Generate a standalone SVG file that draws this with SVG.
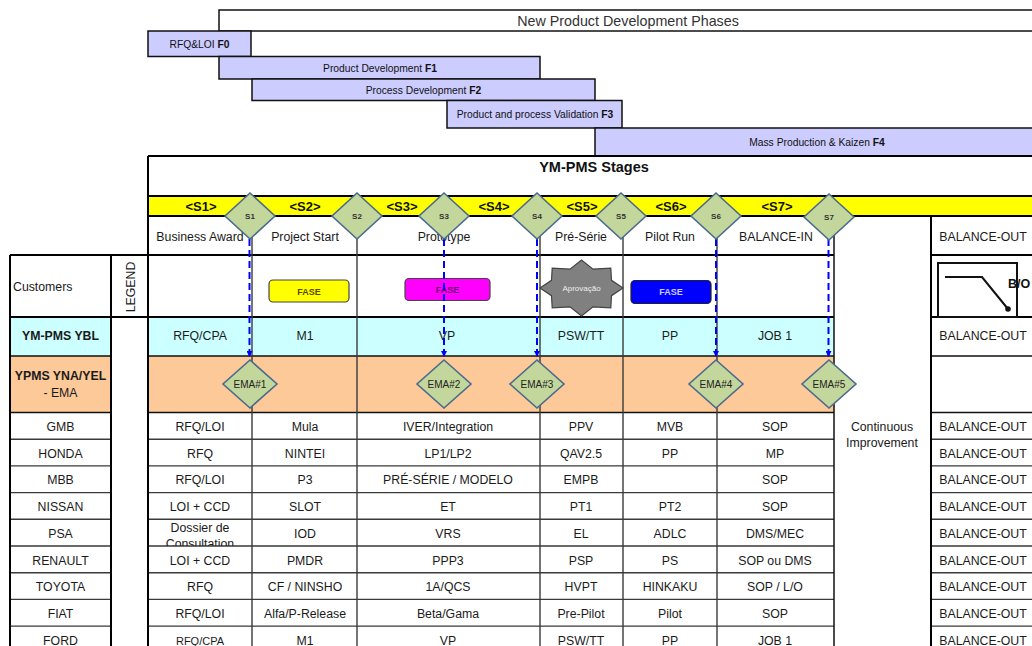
<svg xmlns="http://www.w3.org/2000/svg" width="1032" height="646" viewBox="0 0 1032 646">
<defs>
<style>
text{font-family:"Liberation Sans",Arial,Helvetica,sans-serif;fill:#1a1a1a}
.t{font-size:12.3px;text-anchor:middle}
.b{font-weight:bold}
.ph{fill:#ccccff;stroke:#111;stroke-width:1.5}
.pt{font-size:10.3px;text-anchor:middle;fill:#111}
.sl{font-size:13px;font-weight:bold;text-anchor:middle;fill:#111}
.dia{fill:#c3d69b;stroke:#4a6b8c;stroke-width:1.6}
.dl{font-size:8px;font-weight:bold;text-anchor:middle;fill:#333}
.el{font-size:10px;text-anchor:middle;fill:#222}
.thick{stroke:#000;stroke-width:2;fill:none}
.mid{stroke:#111;stroke-width:1.5;fill:none}
.thin{stroke:#3a3a3a;stroke-width:1.4;fill:none}
.dash{stroke:#0000ff;stroke-width:2;stroke-dasharray:7 4;fill:none}
.fase{font-size:9px;font-weight:bold;text-anchor:middle}
</style>
<marker id="arr" viewBox="0 0 6 6" refX="6" refY="3" markerWidth="6" markerHeight="6" markerUnits="userSpaceOnUse" orient="auto">
<path d="M0,0 L6,3 L0,6 z" fill="#0000ff"/>
</marker>
<clipPath id="psaClip"><rect x="148" y="519.3" width="104" height="26.7"/></clipPath>
</defs>

<rect width="1032" height="646" fill="#fff"/>

<!-- Phase bars -->
<g id="phases">
<g id="phase-title"><rect x="219" y="10" width="830" height="21" fill="#fff" stroke="#111" stroke-width="1.5"/><text x="628" y="25.5" style="font-size:14.3px;text-anchor:middle;fill:#333">New Product Development Phases</text></g>
<g id="phase-F0"><rect class="ph" x="148" y="31" width="103" height="25.5"/><text class="pt" x="199.5" y="47.5">RFQ&amp;LOI <tspan class="b">F0</tspan></text></g>
<g id="phase-F1"><rect class="ph" x="219" y="56.5" width="321" height="22.5"/><text class="pt" x="380" y="71.5">Product Development <tspan class="b">F1</tspan></text></g>
<g id="phase-F2"><rect class="ph" x="252" y="79" width="343" height="21.5"/><text class="pt" x="423.5" y="93.5">Process Development <tspan class="b">F2</tspan></text></g>
<g id="phase-F3"><rect class="ph" x="447" y="100.5" width="175" height="27.5"/><text class="pt" x="535" y="117.5">Product and process Validation <tspan class="b">F3</tspan></text></g>
<g id="phase-F4"><rect class="ph" x="595" y="128" width="450" height="28"/><text class="pt" x="817" y="145.5">Mass Production &amp; Kaizen <tspan class="b">F4</tspan></text></g>
</g>

<!-- Stages header -->
<g id="stages-header">
<text x="594" y="172" style="font-size:14.5px;font-weight:bold;text-anchor:middle;fill:#111">YM-PMS Stages</text>
<rect x="148" y="196" width="900" height="20" fill="#ffff00"/>
<text class="sl" x="201" y="211">&lt;S1&gt;</text>
<text class="sl" x="305" y="211">&lt;S2&gt;</text>
<text class="sl" x="402" y="211">&lt;S3&gt;</text>
<text class="sl" x="494" y="211">&lt;S4&gt;</text>
<text class="sl" x="582" y="211">&lt;S5&gt;</text>
<text class="sl" x="671" y="211">&lt;S6&gt;</text>
<text class="sl" x="777" y="211">&lt;S7&gt;</text>
</g>

<!-- Row backgrounds -->
<g id="row-fills">
<rect x="10" y="317" width="101" height="39" fill="#ccffff"/>
<rect x="148" y="317" width="686" height="39" fill="#ccffff"/>
<rect x="10" y="356" width="101" height="56.5" fill="#fdc998"/>
<rect x="148" y="356" width="686" height="56.5" fill="#fdc998"/>
</g>

<!-- Grid -->
<g id="grid">
<path class="thick" d="M148,156 H1032 M148,196 H1032 M148,216 H1032 M10,255 H834 M931,255 H1032 M10,317 H834 M931,317 H1032"/>
<path class="mid" d="M10,356 H111 M148,356 H834 M931,356 H1032 M10,412.5 H111 M148,412.5 H834 M931,412.5 H1032"/>
<path class="thin" d="M10,439.2 H111 M148,439.2 H834 M931,439.2 H1032 M10,465.9 H111 M148,465.9 H834 M931,465.9 H1032 M10,492.6 H111 M148,492.6 H834 M931,492.6 H1032 M10,519.3 H111 M148,519.3 H834 M931,519.3 H1032 M10,546 H111 M148,546 H834 M931,546 H1032 M10,572.7 H111 M148,572.7 H834 M931,572.7 H1032 M10,599.4 H111 M148,599.4 H834 M931,599.4 H1032 M10,626.1 H111 M148,626.1 H834 M931,626.1 H1032"/>
<path class="thick" d="M148,156 V646 M10,255 V646 M111,255 V646 M931,216 V646"/>
<path class="mid" d="M834,216 V646"/>
<path class="thin" d="M252,216 V646 M357,216 V646 M540,216 V646 M623,216 V646 M717,216 V646"/>
</g>

<!-- Column headers -->
<g id="col-headers">
<text class="t" x="200" y="241">Business Award</text>
<text class="t" x="305" y="241">Project Start</text>
<text class="t" x="444" y="241">Prototype</text>
<text class="t" x="581" y="241">Pré-Série</text>
<text class="t" x="670" y="241">Pilot Run</text>
<text class="t" x="776" y="241">BALANCE-IN</text>
<text class="t" x="983" y="241">BALANCE-OUT</text>
</g>

<!-- Legend row -->
<g id="legend">
<text x="13" y="291" style="font-size:12.3px">Customers</text>
<text class="t" transform="translate(134.5,287) rotate(-90)">LEGEND</text>
<g id="legend-fase-yellow"><rect x="269" y="280" width="80" height="22" rx="4" fill="#ffff00" stroke="#444" stroke-width="1.2"/><text class="fase" x="309" y="294.5" style="fill:#5a4a00">FASE</text></g>
<g id="legend-fase-magenta"><rect x="405" y="278.5" width="85" height="22" rx="4" fill="#ff00ff" stroke="#444" stroke-width="1.2"/><text class="fase" x="447.5" y="293" style="fill:#6a006a">FASE</text></g>
<g id="legend-aprovacao"><polygon points="623,288 611.5,295.7 610.8,307.8 593,306.9 581.5,316 570,306.9 552.2,307.8 551.5,295.7 540,288 551.5,280.3 552.2,268.2 570,269.1 581.5,260 593,269.1 610.8,268.2 611.5,280.3" fill="#808080" stroke="#444" stroke-width="1.2"/><text x="581.5" y="291" style="font-size:8px;text-anchor:middle;fill:#eeeeee">Aprovação</text></g>
<g id="legend-fase-blue"><rect x="631" y="280.5" width="80" height="23" rx="4" fill="#0000ff" stroke="#222" stroke-width="1.2"/><text class="fase" x="671" y="295" style="fill:#ccccff">FASE</text></g>
<g id="legend-bo"><rect x="938" y="263" width="79" height="54" fill="none" stroke="#111" stroke-width="2"/><path d="M945,277 H982 L1008,309" fill="none" stroke="#111" stroke-width="2"/><circle cx="1008" cy="309" r="2.8" fill="#111"/><text x="1008" y="288" style="font-size:12.5px;font-weight:bold;fill:#111">B/O</text></g>
</g>

<!-- YBL and EMA rows -->
<g id="row-ybl">
<text class="t b" x="60.5" y="340">YM-PMS YBL</text>
<text class="t" x="200" y="340">RFQ/CPA</text>
<text class="t" x="305" y="340">M1</text>
<text class="t" x="447" y="340">VP</text>
<text class="t" x="581" y="340">PSW/TT</text>
<text class="t" x="670" y="340">PP</text>
<text class="t" x="775" y="340">JOB 1</text>
<text class="t" x="983" y="340">BALANCE-OUT</text>
</g>
<g id="row-ema">
<text class="t b" x="60.5" y="380">YPMS YNA/YEL</text>
<text class="t" x="60.5" y="397">- EMA</text>
</g>

<!-- Customer rows -->
<g id="customers">
<g id="row-gmb"><text class="t" x="60.5" y="431">GMB</text><text class="t" x="200" y="431">RFQ/LOI</text><text class="t" x="305" y="431">Mula</text><text class="t" x="448" y="431">IVER/Integration</text><text class="t" x="581" y="431">PPV</text><text class="t" x="670" y="431">MVB</text><text class="t" x="775" y="431">SOP</text><text class="t" x="983" y="431">BALANCE-OUT</text></g>
<g id="row-honda"><text class="t" x="60.5" y="457.7">HONDA</text><text class="t" x="200" y="457.7">RFQ</text><text class="t" x="305" y="457.7">NINTEI</text><text class="t" x="448" y="457.7">LP1/LP2</text><text class="t" x="581" y="457.7">QAV2.5</text><text class="t" x="670" y="457.7">PP</text><text class="t" x="775" y="457.7">MP</text><text class="t" x="983" y="457.7">BALANCE-OUT</text></g>
<g id="row-mbb"><text class="t" x="60.5" y="484.4">MBB</text><text class="t" x="200" y="484.4">RFQ/LOI</text><text class="t" x="305" y="484.4">P3</text><text class="t" x="448" y="484.4">PRÉ-SÉRIE / MODELO</text><text class="t" x="581" y="484.4">EMPB</text><text class="t" x="775" y="484.4">SOP</text><text class="t" x="983" y="484.4">BALANCE-OUT</text></g>
<g id="row-nissan"><text class="t" x="60.5" y="511.1">NISSAN</text><text class="t" x="200" y="511.1">LOI + CCD</text><text class="t" x="305" y="511.1">SLOT</text><text class="t" x="448" y="511.1">ET</text><text class="t" x="581" y="511.1">PT1</text><text class="t" x="670" y="511.1">PT2</text><text class="t" x="775" y="511.1">SOP</text><text class="t" x="983" y="511.1">BALANCE-OUT</text></g>
<g id="row-psa"><text class="t" x="60.5" y="537.8">PSA</text><g clip-path="url(#psaClip)"><text class="t" x="200" y="531.5">Dossier de</text><text class="t" x="200" y="547.5">Consultation</text></g><text class="t" x="305" y="537.8">IOD</text><text class="t" x="448" y="537.8">VRS</text><text class="t" x="581" y="537.8">EL</text><text class="t" x="670" y="537.8">ADLC</text><text class="t" x="775" y="537.8">DMS/MEC</text><text class="t" x="983" y="537.8">BALANCE-OUT</text></g>
<g id="row-renault"><text class="t" x="60.5" y="564.5">RENAULT</text><text class="t" x="200" y="564.5">LOI + CCD</text><text class="t" x="305" y="564.5">PMDR</text><text class="t" x="448" y="564.5">PPP3</text><text class="t" x="581" y="564.5">PSP</text><text class="t" x="670" y="564.5">PS</text><text class="t" x="775" y="564.5">SOP ou DMS</text><text class="t" x="983" y="564.5">BALANCE-OUT</text></g>
<g id="row-toyota"><text class="t" x="60.5" y="591.2">TOYOTA</text><text class="t" x="200" y="591.2">RFQ</text><text class="t" x="305" y="591.2">CF / NINSHO</text><text class="t" x="448" y="591.2">1A/QCS</text><text class="t" x="581" y="591.2">HVPT</text><text class="t" x="670" y="591.2">HINKAKU</text><text class="t" x="775" y="591.2">SOP / L/O</text><text class="t" x="983" y="591.2">BALANCE-OUT</text></g>
<g id="row-fiat"><text class="t" x="60.5" y="617.9">FIAT</text><text class="t" x="200" y="617.9">RFQ/LOI</text><text class="t" x="305" y="617.9">Alfa/P-Release</text><text class="t" x="448" y="617.9">Beta/Gama</text><text class="t" x="581" y="617.9">Pre-Pilot</text><text class="t" x="670" y="617.9">Pilot</text><text class="t" x="775" y="617.9">SOP</text><text class="t" x="983" y="617.9">BALANCE-OUT</text></g>
<g id="row-ford"><text class="t" x="60.5" y="644.6">FORD</text><text class="t" x="200" y="644.6" style="font-size:11px">RFQ/CPA</text><text class="t" x="305" y="644.6">M1</text><text class="t" x="448" y="644.6">VP</text><text class="t" x="581" y="644.6">PSW/TT</text><text class="t" x="670" y="644.6">PP</text><text class="t" x="775" y="644.6">JOB 1</text><text class="t" x="983" y="644.6">BALANCE-OUT</text></g>
<g id="continuous"><text class="t" x="882" y="431">Continuous</text><text class="t" x="882" y="447">Improvement</text></g>
</g>

<!-- Connectors -->
<g id="connectors">
<path class="dash" d="M249.5,239 V357" marker-end="url(#arr)"/>
<path class="dash" d="M444,239 V357" marker-end="url(#arr)"/>
<path class="dash" d="M537,239 V357" marker-end="url(#arr)"/>
<path class="dash" d="M716,239 V357" marker-end="url(#arr)"/>
<path class="dash" d="M828.5,239 V357" marker-end="url(#arr)"/>
</g>

<!-- Stage gate diamonds -->
<g id="gates">
<g id="gate-S1"><polygon class="dia" points="250,193 275,216 250,239 225,216"/><text class="dl" x="250" y="219">S1</text></g>
<g id="gate-S2"><polygon class="dia" points="357,193 382,216 357,239 332,216"/><text class="dl" x="357" y="219">S2</text></g>
<g id="gate-S3"><polygon class="dia" points="444,193 469,216 444,239 419,216"/><text class="dl" x="444" y="219">S3</text></g>
<g id="gate-S4"><polygon class="dia" points="537,193 562,216 537,239 512,216"/><text class="dl" x="537" y="219">S4</text></g>
<g id="gate-S5"><polygon class="dia" points="621,193 646,216 621,239 596,216"/><text class="dl" x="621" y="219">S5</text></g>
<g id="gate-S6"><polygon class="dia" points="716,193 741,216 716,239 691,216"/><text class="dl" x="716" y="219">S6</text></g>
<g id="gate-S7"><polygon class="dia" points="829,194 854,217 829,240 804,217"/><text class="dl" x="829" y="220">S7</text></g>
</g>

<!-- EMA diamonds -->
<g id="ema">
<g id="ema-1"><polygon class="dia" points="250,360 277,384 250,408 223,384"/><text class="el" x="250" y="387.5">EMA#1</text></g>
<g id="ema-2"><polygon class="dia" points="444,360 471,384 444,408 417,384"/><text class="el" x="444" y="387.5">EMA#2</text></g>
<g id="ema-3"><polygon class="dia" points="537,360 564,384 537,408 510,384"/><text class="el" x="537" y="387.5">EMA#3</text></g>
<g id="ema-4"><polygon class="dia" points="716,360 743,384 716,408 689,384"/><text class="el" x="716" y="387.5">EMA#4</text></g>
<g id="ema-5"><polygon class="dia" points="829,360 856,384 829,408 802,384"/><text class="el" x="829" y="387.5">EMA#5</text></g>
</g>
</svg>
